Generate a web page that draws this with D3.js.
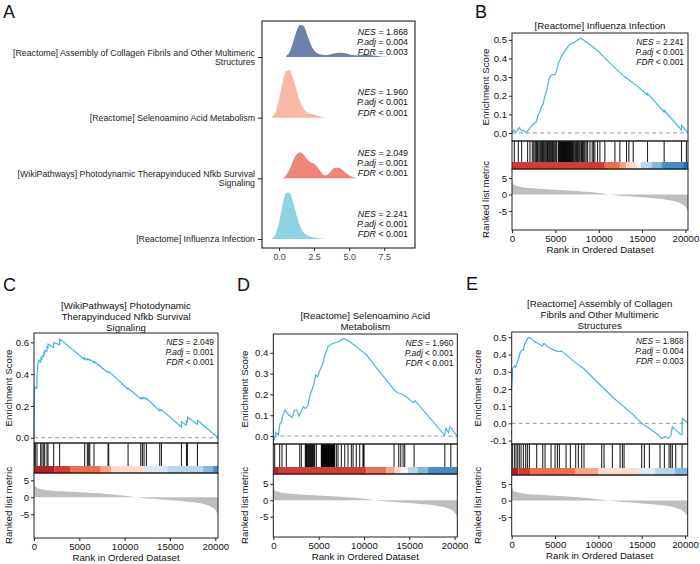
<!DOCTYPE html>
<html>
<head>
<meta charset="utf-8">
<script src="https://cdn.jsdelivr.net/npm/d3@7"></script>
<style>
  body { margin: 0; background: #fff; }
  svg { display: block; }
  text { font-family: 'Liberation Sans', Arial, Helvetica, sans-serif; }
</style>
</head>
<body>
<svg id="chart" width="700" height="564"></svg>
<script>
// DATA ///////////////////////////////////////////////////////////////////////////////////

// panel A - ridge plot
var ridgePathways = [
    "[Reactome] Influenza Infection",
    "[WikiPathways] Photodynamic Therapyinduced Nfkb Survival Signaling",
    "[Reactome] Selenoamino Acid Metabolism",
    "[Reactome] Assembly of Collagen Fibrils and Other Multimeric Structures"
];
var ridgeLabelLines = [
    ["[Reactome] Influenza Infection"],
    ["[WikiPathways] Photodynamic Therapyinduced Nfkb Survival", "Signaling"],
    ["[Reactome] Selenoamino Acid Metabolism"],
    ["[Reactome] Assembly of Collagen Fibrils and Other Multimeric", "Structures"]
];
var ridgeNES = ["2.241", "2.049", "1.960", "1.868"];
var ridgePadj = ["< 0.001", "= 0.001", "< 0.001", "= 0.004"];
var ridgeFDR = ["< 0.001", "< 0.001", "< 0.001", "= 0.003"];
var ridgeTicks = [0, 2.5, 5, 7.5];

var ridgeGrid = [-0.75, -0.5, -0.25, 0, 0.25, 0.5, 0.75, 1, 1.25, 1.5, 1.75, 2, 2.25, 2.5, 2.75, 3, 3.25, 3.5,
    3.75, 4, 4.25, 4.5, 4.75, 5, 5.25, 5.5, 5.75, 6, 6.25, 6.5, 6.75, 7, 7.25, 7.5, 7.75, 8];
var ridgeInfluenza = [null, 0.015, 0.1, 0.33, 0.68, 0.92, 0.93, 0.74, 0.48, 0.26, 0.13, 0.07, 0.045, 0.03, 0.02, 0.01, 0,
    null, null, null, null, null, null, null, null, null, null, null, null, null, null, null, null, null, null, null];
var ridgePhotodynamic = [null, null, null, null, 0, 0.06, 0.18, 0.35, 0.48, 0.52, 0.47, 0.38, 0.32, 0.29, 0.22, 0.12, 0.06,
    0.08, 0.16, 0.21, 0.21, 0.17, 0.11, 0.06, 0.025, 0.005, null, null, null, null, null, null, null, null, null, null];
var ridgeSelenoamino = [null, 0.02, 0.12, 0.38, 0.72, 0.93, 0.95, 0.78, 0.55, 0.32, 0.18, 0.11, 0.08, 0.06, 0.04, 0.02, 0.005,
    null, null, null, null, null, null, null, null, null, null, null, null, null, null, null, null, null, null, null];
var ridgeCollagen = [null, null, null, null, null, 0.02, 0.1, 0.3, 0.52, 0.64, 0.62, 0.45, 0.26, 0.13, 0.07, 0.05, 0.04,
    0.045, 0.06, 0.075, 0.085, 0.085, 0.075, 0.055, 0.04, 0.035, 0.04, 0.045, 0.045, 0.04, 0.03, 0.02, 0.012, 0.006, 0.002, null];
var ridgeColors = ["#8DD3E2", "#EE8677", "#F6B9A5", "#6F80AB"];

// shared ranked list metric
var N_GENES = 20300;
var rankedPos = [0, 60, 200, 500, 1000, 2000, 3000, 4000, 5000, 6000, 7000, 8000, 9000, 10000, 11000, 12000, 13000,
    14000, 15000, 16000, 17000, 18000, 19000, 19500, 19800, 20000, 20150, 20300];
var rankedMetric = [4.9, 3.8, 3.0, 2.6, 2.3, 1.95, 1.75, 1.6, 1.45, 1.3, 1.15, 0.95, 0.75, 0.45, 0.1, -0.2, -0.45,
    -0.65, -0.85, -1.05, -1.3, -1.65, -2.2, -2.7, -3.2, -3.7, -4.3, -5.0];
var rankTicks = [0, 5000, 10000, 15000, 20000];
var metricTicks = [-5, 0, 5];
var barPalette = ["#B41F2C", "#D83A33", "#F26C50", "#F5A689", "#FBDCCC", "#F4F4F7", "#DEE7F3", "#B9D5E8", "#86B8DC", "#4A8AC6", "#2768AE"];

// panel B - Influenza Infection
var titleB = ["[Reactome] Influenza Infection"];
var statsB = ["2.241", "< 0.001", "< 0.001"];
var esRankB = [0, 230, 420, 690, 880, 1075, 1270, 1650, 2030, 2420, 2800, 3000, 3190, 3380, 3570, 3760, 3960, 4150, 4340,
    4530, 4720, 4920, 5110, 5300, 5680, 6070, 6450, 6840, 7220, 7600, 7910, 8370, 9140, 9910, 10670, 11830, 12980, 14520,
    15600, 15630, 17530, 17550, 19530, 19550, 20300];
var esScoreB = [0, 0.016, 0.004, 0.02, 0.029, 0.011, 0.016, 0.002, 0.025, 0.047, 0.06, 0.097, 0.111, 0.14, 0.15, 0.195,
    0.22, 0.267, 0.30, 0.31, 0.315, 0.31, 0.33, 0.366, 0.41, 0.437, 0.464, 0.482, 0.487, 0.50, 0.509, 0.495, 0.47, 0.44,
    0.405, 0.351, 0.303, 0.249, 0.205, 0.213, 0.112, 0.122, 0.016, 0.042, 0];
var hitsB = [270, 730, 1110, 1800, 2070, 2340, 2500, 2650, 2750, 2840, 2940, 3030, 3200, 3300, 3420, 3520, 3610, 3700, 3800,
    3900, 4000, 4100, 4190, 4300, 4380, 4470, 4570, 4680, 4760, 4850, 4950, 5050, 5150, 5340, 5400, 5460, 5520, 5580, 5640,
    5700, 5760, 5820, 5880, 5940, 6000, 6060, 6120, 6180, 6240, 6300, 6360, 6420, 6480, 6540, 6600, 6660, 6720, 6780, 6840,
    6900, 6980, 7070, 7160, 7260, 7350, 7450, 7540, 7640, 7730, 7830, 7950, 8030, 8120, 8220, 8310, 8410, 8560, 8720, 8990,
    9250, 9400, 9560, 9870, 10140, 10710, 11870, 12440, 13210, 13480, 13980, 15630, 17550, 19550, 20120];
var barEndsB = [10710, 12440, 13210, 14360, 14860, 16090, 17240, 19740, 20300];
var barColsB = [1, 2, 3, 4, 5, 7, 8, 9, 10];

// panel C - Photodynamic Therapy-induced NFkB
var titleC = ["[WikiPathways] Photodynamic", "Therapyinduced Nfkb Survival", "Signaling"];
var statsC = ["2.049", "= 0.001", "< 0.001"];
var esRankC = [0, 60, 300, 340, 470, 660, 740, 760, 870, 890, 1060, 1080, 1170, 1190, 1420, 1440, 1530, 1550, 2160, 2180,
    2820, 2840, 5580, 5600, 5880, 5900, 6140, 6160, 6610, 6630, 8160, 8250, 10370, 10390, 11770, 11790, 11950, 11970, 12130,
    12150, 12390, 12410, 13860, 13880, 14050, 14070, 16260, 16280, 16800, 16820, 16920, 16940, 18020, 18040, 20300];
var esScoreC = [0, 0.32, 0.31, 0.4, 0.49, 0.478, 0.475, 0.5, 0.495, 0.515, 0.51, 0.535, 0.53, 0.55, 0.545, 0.57, 0.565,
    0.59, 0.568, 0.6, 0.585, 0.622, 0.492, 0.502, 0.49, 0.497, 0.486, 0.493, 0.473, 0.48, 0.41, 0.418, 0.305, 0.312, 0.245,
    0.252, 0.246, 0.253, 0.246, 0.252, 0.242, 0.248, 0.17, 0.178, 0.17, 0.176, 0.068, 0.1, 0.08, 0.105, 0.1, 0.13, 0.085,
    0.11, 0];
var hitsC = [60, 150, 330, 735, 880, 1070, 1180, 1435, 1545, 2170, 2830, 5590, 5890, 6030, 6150, 6620, 8170, 8240, 10380,
    11780, 11960, 12140, 12400, 13870, 14060, 16270, 16820, 16930, 18030];
var barEndsC = [2280, 4050, 7360, 8540, 12030, 14790, 18660, 19760, 20300];
var barColsC = [0, 1, 2, 3, 4, 6, 7, 8, 9];

// panel D - Selenoamino Acid Metabolism
var titleD = ["[Reactome] Selenoamino Acid", "Metabolism"];
var statsD = ["1.960", "< 0.001", "< 0.001"];
var esRankD = [0, 110, 290, 550, 740, 920, 1030, 1290, 1730, 2100, 2320, 2580, 2830, 3130, 3310, 3500, 3790, 4050, 4420,
    4670, 4890, 5150, 5410, 5700, 6070, 6440, 6810, 7180, 7470, 7730, 8460, 9380, 10300, 11220, 12330, 13360, 13730, 14170,
    14720, 15460, 15640, 17480, 18880, 19060, 19320, 19500, 20300];
var esScoreD = [0, -0.016, 0.016, 0.005, 0.06, 0.069, 0.096, 0.125, 0.10, 0.09, 0.122, 0.125, 0.096, 0.122, 0.141, 0.133,
    0.144, 0.197, 0.24, 0.293, 0.285, 0.317, 0.341, 0.389, 0.432, 0.442, 0.448, 0.453, 0.461, 0.469, 0.453, 0.421, 0.389,
    0.336, 0.277, 0.221, 0.208, 0.202, 0.186, 0.16, 0.17, 0.077, 0.005, 0.037, 0.016, 0.045, 0];
var hitsD = [150, 700, 960, 1440, 2910, 3090, 3530, 3600, 3650, 3700, 3750, 3820, 3900, 3970, 4050, 4120, 4200, 4270, 4340,
    4420, 4490, 4560, 4750, 5300, 5350, 5400, 5440, 5480, 5530, 5570, 5620, 5670, 5710, 5760, 5800, 5850, 5900, 5950, 5990,
    6040, 6090, 6130, 6180, 6220, 6270, 6310, 6360, 6400, 6450, 6500, 6540, 6590, 6640, 6680, 6720, 6770, 6960, 7140, 7510,
    7880, 8240, 8610, 8800, 9160, 9530, 9900, 9950, 10010, 13320, 13840, 14060, 14320, 14500, 15530, 18920, 19580];
var barEndsD = [515, 10270, 12480, 13400, 14130, 14870, 15970, 17080, 20300];
var barColsD = [0, 1, 2, 3, 4, 5, 7, 8, 9];

// panel E - Collagen Fibrils
var titleE = ["[Reactome] Assembly of Collagen", "Fibrils and Other Multimeric", "Structures"];
var statsE = ["1.868", "= 0.004", "= 0.003"];
var esRankE = [0, 115, 310, 460, 650, 850, 960, 1150, 1350, 1460, 1650, 1920, 2230, 2500, 3150, 3540, 3730, 4230, 4690,
    5310, 5770, 6540, 7310, 8270, 10000, 11920, 13840, 15000, 16150, 16920, 17300, 17690, 18070, 18380, 18530, 18840, 19420,
    19640, 19660, 20300];
var esScoreE = [0.21, 0.314, 0.333, 0.326, 0.358, 0.384, 0.41, 0.426, 0.426, 0.455, 0.475, 0.5, 0.494, 0.48, 0.461, 0.45,
    0.465, 0.442, 0.43, 0.417, 0.42, 0.388, 0.353, 0.32, 0.233, 0.14, 0.058, 0.0, -0.039, -0.068, -0.087, -0.078, -0.087,
    -0.068, -0.019, -0.035, -0.062, -0.065, 0.03, 0.004];
var hitsE = [77, 310, 500, 690, 880, 1080, 1350, 1610, 1810, 2040, 2880, 3580, 3850, 4540, 5000, 5270, 5500, 6270, 6770,
    7380, 7690, 8070, 8340, 10380, 10650, 11610, 12500, 12770, 12960, 14990, 15300, 15880, 17110, 17610, 18150, 18340,
    18530, 18920, 19650];
var barEndsE = [770, 2110, 7300, 10000, 14610, 16530, 18840, 20300];
var barColsE = [0, 1, 2, 3, 4, 6, 7, 8];

// SETUP //////////////////////////////////////////////////////////////////////////////////

var svg = d3.select("#chart");
var ES_COLOUR = "#45B7D9";

function fmt1(d) { return d.toFixed(1); }

// three lines of NES / P.adj / FDR, right aligned, label part in italics
function drawStats(g, xRight, y, size, step, nes, padj, fdr) {
    var rows = [["NES", " = " + nes], ["P.adj", " " + padj], ["FDR", " " + fdr]];
    rows.forEach(function (r, i) {
        var t = g.append("text")
            .attr("x", xRight)
            .attr("y", y + i * step)
            .attr("text-anchor", "end")
            .style("font-size", size + "px")
            .attr("fill", "#111");
        t.append("tspan").style("font-style", "italic").text(r[0]);
        t.append("tspan").text(r[1]);
    });
}

function styleAxis(sel, size) {
    sel.select(".domain").remove();
    sel.selectAll(".tick line").attr("stroke", "#222");
    sel.selectAll(".tick text").style("font-size", size + "px").attr("fill", "#111")
        .style("font-family", "'Liberation Sans', Arial, sans-serif");
}

// PANEL A ////////////////////////////////////////////////////////////////////////////////

function drawRidges() {
    var g = svg.append("g");
    var xR = d3.scaleLinear().domain([-1.22, 9.7]).range([262, 415]);
    var yR = d3.scalePoint().domain(ridgePathways).range([239, 57]);
    var hR = d3.scaleLinear().domain([0, 1]).range([0, 50]);
    var dens = [ridgeInfluenza, ridgePhotodynamic, ridgeSelenoamino, ridgeCollagen];

    // draw top ridge first so lower ones sit on top
    for (var i = ridgePathways.length - 1; i >= 0; i--) {
        var base = yR(ridgePathways[i]);
        var pts = ridgeGrid.map(function (x, j) { return [x, dens[i][j]]; });
        var area = d3.area()
            .defined(function (d) { return d[1] !== null; })
            .x(function (d) { return xR(d[0]); })
            .y0(base)
            .y1(function (d) { return base - hR(d[1]); })
            .curve(d3.curveMonotoneX);
        g.append("path").datum(pts).attr("d", area).attr("fill", ridgeColors[i]);
    }

    g.append("rect")
        .attr("x", 262).attr("y", 21).attr("width", 153).attr("height", 227)
        .attr("fill", "none").attr("stroke", "#333").attr("stroke-width", 1.2);

    var ax = g.append("g").attr("transform", "translate(0,248)")
        .call(d3.axisBottom(xR).tickValues(ridgeTicks).tickFormat(fmt1).tickSize(3).tickPadding(3));
    styleAxis(ax, 8.8);
    ax.selectAll(".tick text").attr("fill", "#444");

    var ay = g.append("g").attr("transform", "translate(262,0)")
        .call(d3.axisLeft(yR).tickSize(4).tickFormat(""));
    styleAxis(ay, 8.8);

    ridgePathways.forEach(function (p, i) {
        var base = yR(p);
        var lines = ridgeLabelLines[i];
        var y0 = lines.length === 1 ? base + 3 : base - 1.5;
        lines.forEach(function (ln, k) {
            g.append("text")
                .attr("x", 255).attr("y", y0 + k * 9.5)
                .attr("text-anchor", "end")
                .style("font-size", "8.8px")
                .attr("fill", "#222")
                .text(ln);
        });
        drawStats(g, 408, base - 22.5, 8.8, 10.3, ridgeNES[i], ridgePadj[i], ridgeFDR[i]);
    });
}

// GSEA PANELS ////////////////////////////////////////////////////////////////////////////

function drawGsea(p) {
    var g = svg.append("g");
    var x = d3.scaleLinear().domain([0, N_GENES]).range([p.left, p.right]);
    var yEs = d3.scaleLinear().domain(p.esDomain).range([p.esBottom, p.top]);
    var yRk = d3.scaleLinear().domain(p.rankDomain).range([p.bottom, p.hitBottom]);
    var barH = 7;
    var cx = (p.left + p.right) / 2;

    // title
    p.title.forEach(function (ln, k) {
        g.append("text")
            .attr("x", cx).attr("y", p.titleY + k * 11)
            .attr("text-anchor", "middle")
            .style("font-size", "9.7px")
            .attr("fill", "#111")
            .text(ln);
    });

    // zero line + running score
    g.append("line")
        .attr("x1", p.left).attr("x2", p.right)
        .attr("y1", yEs(0)).attr("y2", yEs(0))
        .attr("stroke", "#9a9a9a").attr("stroke-width", 1).attr("stroke-dasharray", "4,3");
    g.append("path")
        .datum(d3.zip(p.esRank, p.esScore))
        .attr("d", d3.line().x(function (d) { return x(d[0]); }).y(function (d) { return yEs(d[1]); }))
        .attr("fill", "none").attr("stroke", ES_COLOUR).attr("stroke-width", 1.2);

    // gene hits
    g.selectAll("line.hit")
        .data(p.hits)
        .enter().append("line")
        .attr("class", "hit")
        .attr("x1", function (d) { return x(d); }).attr("x2", function (d) { return x(d); })
        .attr("y1", p.esBottom).attr("y2", p.hitBottom - barH)
        .attr("stroke", "#000").attr("stroke-width", 1.1).attr("stroke-opacity", 0.85);

    // colour bar of ranked metric
    var starts = [0].concat(p.barEnds.slice(0, -1));
    g.selectAll("rect.seg")
        .data(p.barEnds)
        .enter().append("rect")
        .attr("class", "seg")
        .attr("x", function (d, i) { return x(starts[i]); })
        .attr("width", function (d, i) { return x(d) - x(starts[i]); })
        .attr("y", p.hitBottom - barH).attr("height", barH)
        .attr("fill", function (d, i) { return barPalette[p.barCols[i]]; });

    // ranked list metric
    g.append("path")
        .datum(d3.zip(rankedPos, rankedMetric))
        .attr("d", d3.area()
            .x(function (d) { return x(d[0]); })
            .y0(yRk(0))
            .y1(function (d) { return yRk(d[1]); })
            .curve(d3.curveMonotoneX))
        .attr("fill", "#BEBEBE");

    // frames
    [[p.top, p.esBottom], [p.esBottom, p.hitBottom], [p.hitBottom, p.bottom]].forEach(function (b) {
        g.append("rect")
            .attr("x", p.left).attr("y", b[0])
            .attr("width", p.right - p.left).attr("height", b[1] - b[0])
            .attr("fill", "none").attr("stroke", "#222").attr("stroke-width", 1);
    });

    // stats
    drawStats(g, p.right - 4, p.top + 12, 8.4, 10, p.stats[0], p.stats[1], p.stats[2]);

    // axes
    var ay = g.append("g").attr("transform", "translate(" + p.left + ",0)")
        .call(d3.axisLeft(yEs).tickValues(p.esTicks).tickFormat(fmt1).tickSize(3).tickPadding(2));
    styleAxis(ay, 9.6);
    var ar = g.append("g").attr("transform", "translate(" + p.left + ",0)")
        .call(d3.axisLeft(yRk).tickValues(metricTicks).tickFormat(function (d) { return String(d); }).tickSize(3).tickPadding(2));
    styleAxis(ar, 9.6);
    var ax = g.append("g").attr("transform", "translate(0," + p.bottom + ")")
        .call(d3.axisBottom(x).tickValues(rankTicks).tickFormat(function (d) { return String(d); }).tickSize(3).tickPadding(2));
    styleAxis(ax, 9.6);

    // axis titles
    g.append("text")
        .attr("x", cx).attr("y", p.bottom + 23)
        .attr("text-anchor", "middle").style("font-size", "9.7px").attr("fill", "#111")
        .text("Rank in Ordered Dataset");
    g.append("text")
        .attr("transform", "translate(" + (p.yLabelX + 3.5) + "," + ((p.top + p.esBottom) / 2) + ") rotate(-90)")
        .attr("text-anchor", "middle").style("font-size", "9.7px").attr("fill", "#111")
        .text("Enrichment Score");
    g.append("text")
        .attr("transform", "translate(" + (p.yLabelX + 3.5) + "," + ((p.hitBottom + p.bottom) / 2) + ") rotate(-90)")
        .attr("text-anchor", "middle").style("font-size", "9.7px").attr("fill", "#111")
        .text("Ranked list metric");
}

// DRAW ///////////////////////////////////////////////////////////////////////////////////

drawRidges();

drawGsea({
    left: 512, right: 688, top: 33, esBottom: 141, hitBottom: 169, bottom: 230,
    esDomain: [-0.043, 0.537], rankDomain: [-10.7, 7.7], esTicks: [0, 0.1, 0.2, 0.3, 0.4, 0.5],
    titleY: 28.5, yLabelX: 485, title: titleB, stats: statsB,
    esRank: esRankB, esScore: esScoreB, hits: hitsB, barEnds: barEndsB, barCols: barColsB
});
drawGsea({
    left: 34, right: 218, top: 333, esBottom: 443, hitBottom: 473, bottom: 538,
    esDomain: [-0.033, 0.659], rankDomain: [-12, 7.15], esTicks: [0, 0.2, 0.4, 0.6],
    titleY: 308.5, yLabelX: 8.3, title: titleC, stats: statsC,
    esRank: esRankC, esScore: esScoreC, hits: hitsC, barEnds: barEndsC, barCols: barColsC
});
drawGsea({
    left: 273.3, right: 457.3, top: 334, esBottom: 444, hitBottom: 474, bottom: 537,
    esDomain: [-0.038, 0.49], rankDomain: [-11.2, 8], esTicks: [0, 0.1, 0.2, 0.3, 0.4],
    titleY: 318.5, yLabelX: 244.3, title: titleD, stats: statsD,
    esRank: esRankD, esScore: esScoreD, hits: hitsD, barEnds: barEndsD, barCols: barColsD
});
drawGsea({
    left: 511.7, right: 687.7, top: 332, esBottom: 444, hitBottom: 475, bottom: 536,
    esDomain: [-0.12, 0.531], rankDomain: [-10.7, 7.75], esTicks: [-0.1, 0, 0.1, 0.2, 0.3, 0.4, 0.5],
    titleY: 306.5, yLabelX: 477.7, title: titleE, stats: statsE,
    esRank: esRankE, esScore: esScoreE, hits: hitsE, barEnds: barEndsE, barCols: barColsE
});

// panel letters
var letters = [["A", 3, 18], ["B", 475, 18], ["C", 3, 291], ["D", 237, 291], ["E", 466, 290]];
svg.selectAll("text.letter")
    .data(letters)
    .enter().append("text")
    .attr("class", "letter")
    .attr("x", function (d) { return d[1]; })
    .attr("y", function (d) { return d[2]; })
    .style("font-size", "18px")
    .attr("fill", "#111")
    .text(function (d) { return d[0]; });
</script>
</body>
</html>
